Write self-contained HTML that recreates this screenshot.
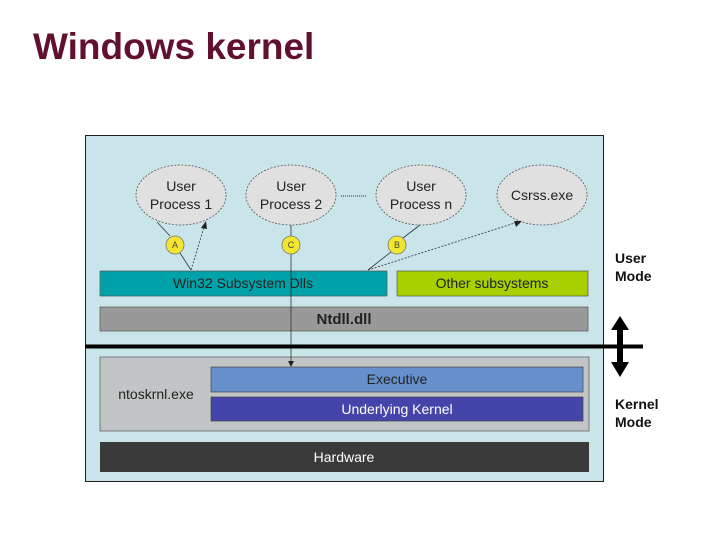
<!DOCTYPE html>
<html><head><style>
body{margin:0;width:720px;height:540px;background:#fff;position:relative;overflow:hidden;font-family:"Liberation Sans",sans-serif}
</style></head><body>
<div style="position:absolute;left:33px;top:26px;font-size:37px;font-weight:bold;color:#62102f">Windows kernel</div>
<svg width="720" height="540" style="position:absolute;left:0;top:0" font-family="Liberation Sans, sans-serif">
<rect x="85.5" y="135.5" width="518" height="346" fill="#c9e5e9" stroke="#222" stroke-width="1"/>
<rect x="100" y="271" width="287" height="25" fill="#00a2aa" stroke="#555" stroke-width="0.7"/>
<rect x="397" y="271" width="191" height="25" fill="#a6d000" stroke="#555" stroke-width="0.7"/>
<rect x="100" y="307" width="488" height="24" fill="#999" stroke="#555" stroke-width="0.7"/>
<rect x="100" y="357" width="489" height="74" fill="#c1c5c5" stroke="#555" stroke-width="0.7"/>
<rect x="211" y="367" width="372" height="25" fill="#6690cc" stroke="#444" stroke-width="0.7"/>
<rect x="211" y="397" width="372" height="24" fill="#4444aa" stroke="#444" stroke-width="0.7"/>
<rect x="100" y="442" width="489" height="30" fill="#3a3a3a"/>
<g fill="#e0e0e0" stroke="#555" stroke-dasharray="2,1.5" stroke-width="0.8">
<ellipse cx="181" cy="195" rx="45" ry="30"/>
<ellipse cx="291" cy="195" rx="45" ry="30"/>
<ellipse cx="421" cy="195" rx="45" ry="30"/>
<ellipse cx="542" cy="195" rx="45" ry="30"/>
</g>
<line x1="341" y1="196" x2="367" y2="196" stroke="#333" stroke-dasharray="1,1"/>
<g stroke="#333" stroke-width="0.8" fill="none">
<line x1="157" y1="222" x2="170" y2="236"/><line x1="180" y1="253" x2="191" y2="270"/>
<line x1="191" y1="270" x2="205" y2="224" stroke-dasharray="2,1.5"/>
<line x1="291" y1="225" x2="291" y2="236"/>
<line x1="291" y1="254" x2="291" y2="362"/>
<line x1="420" y1="225" x2="403" y2="238"/><line x1="391" y1="252" x2="368" y2="270"/>
<line x1="368" y1="270" x2="518" y2="222" stroke-dasharray="2,1.5"/>
</g>
<polygon points="206,221 201,228 207,229" fill="#222"/>
<polygon points="522,221 514,221 516,227" fill="#222"/>
<polygon points="288,361 294,361 291,367" fill="#222"/>
<g fill="#f2e630" stroke="#777" stroke-width="0.8">
<circle cx="175" cy="245" r="9"/><circle cx="291" cy="245" r="9"/><circle cx="397" cy="245" r="9"/>
</g>
<g font-size="9" fill="#444" text-anchor="middle"><text x="175" y="248">A</text><text x="291" y="248">C</text><text x="397" y="248">B</text></g>
<line x1="85" y1="346.5" x2="643" y2="346.5" stroke="#000" stroke-width="4"/>
<rect x="617" y="327" width="6" height="38" fill="#000"/>
<polygon points="620,316 611,330 629,330" fill="#000"/>
<polygon points="620,377 611,362 629,362" fill="#000"/>
<g font-size="14" fill="#222" text-anchor="middle">
<text x="181" y="191">User</text><text x="181" y="209">Process 1</text>
<text x="291" y="191">User</text><text x="291" y="209">Process 2</text>
<text x="421" y="191">User</text><text x="421" y="209">Process n</text>
<text x="542" y="200">Csrss.exe</text>
<text x="243" y="288">Win32 Subsystem Dlls</text>
<text x="492" y="288">Other subsystems</text>
<text x="344" y="324" font-weight="bold" font-size="15">Ntdll.dll</text>
<text x="156" y="399">ntoskrnl.exe</text>
<text x="397" y="384">Executive</text>
<text x="397" y="414" fill="#fff">Underlying Kernel</text>
<text x="344" y="462" fill="#fff">Hardware</text>
</g>
<g font-size="14" font-weight="bold" fill="#111">
<text x="615" y="263">User</text><text x="615" y="281">Mode</text>
<text x="615" y="409">Kernel</text><text x="615" y="427">Mode</text>
</g>
</svg>
</body></html>
